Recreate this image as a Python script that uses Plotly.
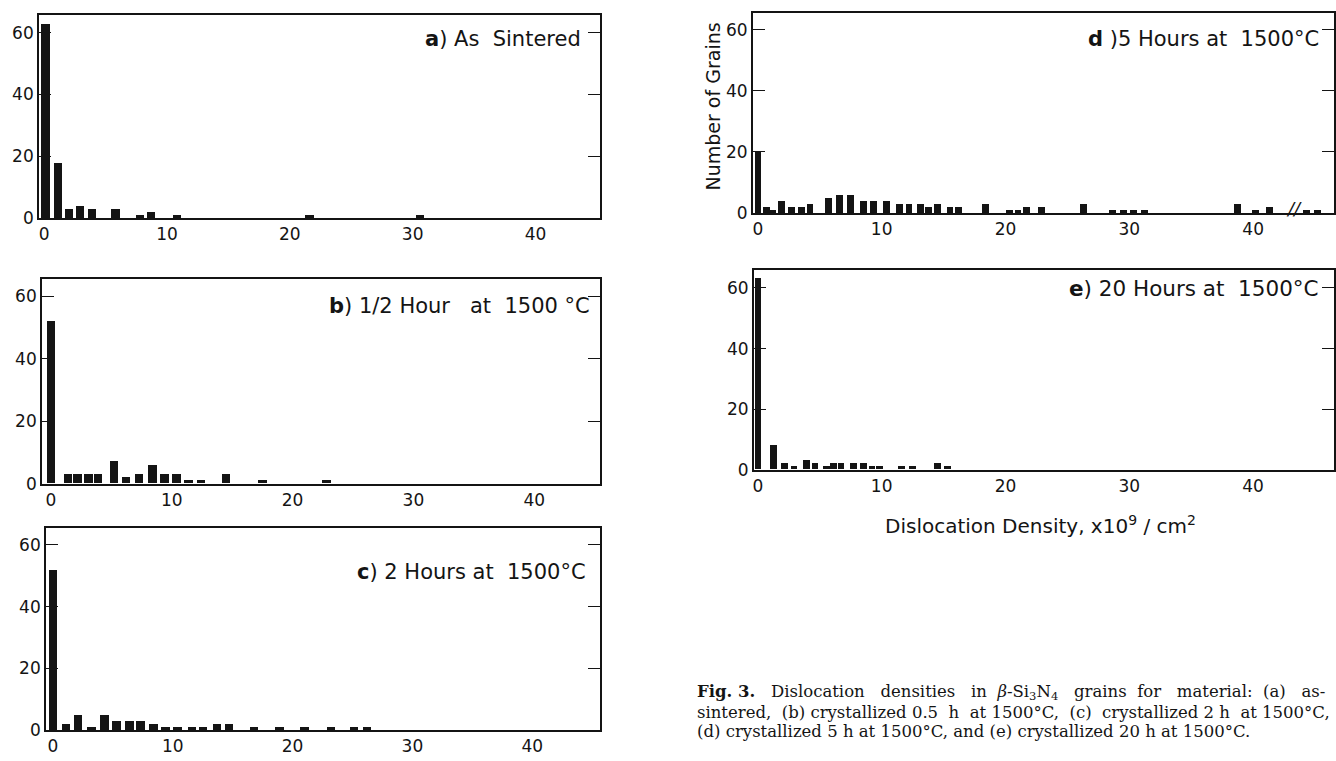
import plotly.graph_objects as go

# ---------------- data (bin centre in 1e9/cm^2, number of grains) ----------------
a_x = [0.1, 1.1, 2.0, 2.9, 3.9, 5.8, 7.8, 8.7, 10.8, 21.6, 30.6]
a_y = [63, 18, 3, 4, 3, 3, 1, 2, 1, 1, 1]

b_x = [0, 1.4, 2.2, 3.1, 3.9, 5.2, 6.2, 7.3, 8.4, 9.4, 10.4, 11.4, 12.4, 14.5, 17.5, 22.8]
b_y = [52, 3, 3, 3, 3, 7, 2, 3, 6, 3, 3, 1, 1, 3, 1, 1]

c_x = [0, 1.1, 2.1, 3.2, 4.3, 5.3, 6.4, 7.3, 8.4, 9.4, 10.4, 11.6, 12.5, 13.7, 14.7,
       16.8, 18.9, 21.0, 23.2, 25.1, 26.2]
c_y = [52, 2, 5, 1, 5, 3, 3, 3, 2, 1, 1, 1, 1, 2, 2, 1, 1, 1, 1, 1, 1]

d_x = [0, 0.7, 1.2, 1.9, 2.7, 3.5, 4.2, 5.7, 6.6, 7.5, 8.5, 9.3, 10.4, 11.4, 12.2, 13.1,
       13.8, 14.5, 15.5, 16.2, 18.4, 20.3, 21.0, 21.7, 22.9, 26.3, 28.6, 29.5, 30.3, 31.2,
       38.7, 40.2, 41.3, 44.3, 45.2]
d_y = [20, 2, 1, 4, 2, 2, 3, 5, 6, 6, 4, 4, 4, 3, 3, 3, 2, 3, 2, 2, 3, 1, 1, 2, 2, 3,
       1, 1, 1, 1, 3, 1, 2, 1, 1]

e_x = [0, 1.26, 2.15, 2.9, 3.9, 4.6, 5.5, 6.1, 6.7, 7.7, 8.5, 9.2, 9.8, 11.6, 12.5, 14.5, 15.3]
e_y = [63, 8, 2, 1, 3, 2, 1, 2, 2, 2, 2, 1, 1, 1, 1, 2, 1]

x_ticks = [0, 10, 20, 30, 40]
y_ticks = [0, 20, 40, 60]

titles = ["<b>a</b>) As  Sintered",
          "<b>b</b>) 1/2 Hour   at  1500 °C",
          "<b>c</b>) 2 Hours at  1500°C",
          "<b>d</b> )5 Hours at  1500°C",
          "<b>e</b>) 20 Hours at  1500°C"]

y_title = "Number of Grains"
x_title = "Dislocation Density, x10<sup>9</sup> / cm<sup>2</sup>"
caption = [
    "<b>Fig. 3.</b>   Dislocation   densities   in  <i>β</i>-Si<sub>3</sub>N<sub>4</sub>   grains  for   material:  (a)   as-",
    "sintered,  (b) crystallized 0.5  h  at 1500°C,  (c)  crystallized 2 h  at 1500°C,",
    "(d) crystallized 5 h at 1500°C, and (e) crystallized 20 h at 1500°C.",
]

# ---------------- layout (pixel geometry) ----------------
W, H = 1336, 761
FONT = "DejaVu Sans"
INK = "#141414"

# panel: (left, right, top, bottom px, px of x=0, px per unit, y top value, bar width)
panels = [
    (38, 600, 15, 221, 43.3, 12.3, 65.8, 0.7),
    (41, 600, 283, 490, 50.0, 12.1, 65.4, 0.7),
    (45, 600, 535, 740, 52.0, 12.0, 65.5, 0.7),
    (753, 1335, 13, 216, 758.0, 12.4, 65.5, 0.55),
    (754, 1335, 274, 476, 758.0, 12.4, 65.8, 0.55),
]
series = [(a_x, a_y), (b_x, b_y), (c_x, c_y), (d_x, d_y), (e_x, e_y)]
title_pos = [(583, 40), (592, 310), (588, 580), (1322, 40), (1322, 292)]
title_size = [21, 21, 21, 21, 21.5]

fig = go.Figure()
layout = dict(
    width=W, height=H, margin=dict(l=0, r=0, t=0, b=0),
    paper_bgcolor="white", plot_bgcolor="white", showlegend=False,
    font=dict(family=FONT, color=INK, size=17),
    bargap=0,
)
annotations = []

for i, ((l, r, t, b, x0px, ppu, ytop, bw), (xs, ys)) in enumerate(zip(panels, series)):
    n = "" if i == 0 else str(i + 1)
    fig.add_trace(go.Bar(x=xs, y=ys, width=bw, marker=dict(color=INK, line=dict(width=0)),
                         xaxis="x" + n, yaxis="y" + n))
    xr = [(l - x0px) / ppu, (r - x0px) / ppu]
    layout["xaxis" + n] = dict(
        domain=[l / W, r / W], range=xr, anchor="y" + n,
        tickvals=x_ticks, ticks="", showgrid=False, zeroline=False,
        showline=True, mirror=True, linecolor=INK, linewidth=1.6,
        tickfont=dict(size=17, color=INK, family=FONT), fixedrange=True,
    )
    layout["yaxis" + n] = dict(
        domain=[1 - b / H, 1 - t / H], range=[0, ytop], anchor="x" + n,
        tickvals=y_ticks, ticks="inside", ticklen=12, tickwidth=1.2, tickcolor=INK,
        showgrid=False, zeroline=False, showline=True, mirror="ticks",
        linecolor=INK, linewidth=1.6,
        tickfont=dict(size=17, color=INK, family=FONT), fixedrange=True,
    )
    tx, ty = title_pos[i]
    annotations.append(dict(text=titles[i], x=tx / W, y=1 - ty / H, xref="paper", yref="paper",
                            xanchor="right", yanchor="middle", showarrow=False,
                            font=dict(size=title_size[i], family=FONT, color=INK)))

# axis break mark on panel d
annotations.append(dict(text="<i>//</i>", x=43.3, y=1.5, xref="x4", yref="y4",
                        showarrow=False, font=dict(size=18, family=FONT, color=INK)))

annotations.append(dict(text=y_title, x=713 / W, y=1 - 108 / H, xref="paper", yref="paper",
                        textangle=-90, showarrow=False, xanchor="center", yanchor="middle",
                        font=dict(size=19, family=FONT, color=INK)))
annotations.append(dict(text=x_title, x=1041 / W, y=1 - 532 / H, xref="paper", yref="paper",
                        showarrow=False, xanchor="center", yanchor="middle",
                        font=dict(size=20, family=FONT, color=INK)))

for k, line in enumerate(caption):
    annotations.append(dict(text=line, x=695 / W, y=1 - (702 + 19.5 * k) / H,
                            xref="paper", yref="paper", showarrow=False,
                            xanchor="left", yanchor="middle", align="left",
                            font=dict(size=16.5, family="DejaVu Serif", color=INK)))

layout["annotations"] = annotations
fig.update_layout(**layout)
fig.write_html("out.html", config={"displayModeBar": False},
               post_script="document.body.style.margin='0';document.body.style.overflow='hidden';")
